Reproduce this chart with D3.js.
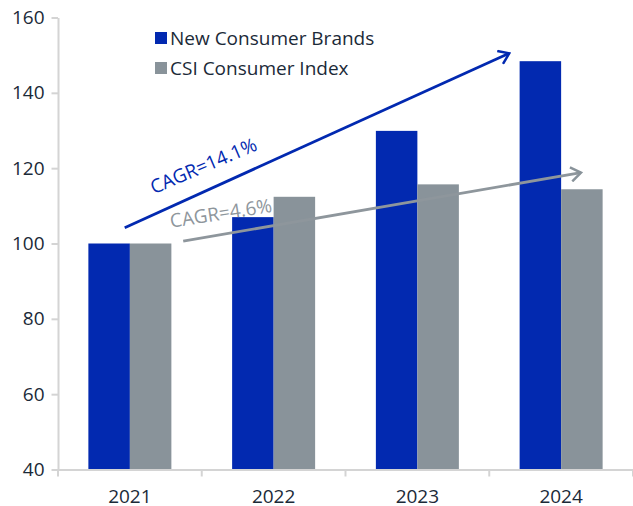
<!DOCTYPE html>
<html><head><meta charset="utf-8">
<script src="https://cdn.jsdelivr.net/npm/d3@7"></script>
<style>
html,body{margin:0;padding:0;background:#fff;}
svg{display:block;font-family:"Open Sans",sans-serif;}
</style></head>
<body><svg id="c" width="633" height="506"></svg>
<script>
const years = ["2021","2022","2023","2024"];
const seriesNames = ["New Consumer Brands","CSI Consumer Index"];
const newConsumerBrands = [100, 107.0, 129.9, 148.4];
const csiConsumerIndex = [100, 112.4, 115.7, 114.4];
const yTicks = [40,60,80,100,120,140,160];
const colors = ["#0229B0","#89939A"];
// annotation arrows in data space: [categoryIndex, value]
const blueArrow = [[-0.036,104.2],[2.639,150.5]];
const grayArrow = [[0.371,100.6],[3.138,118.8]];
const blueLabel = {text:"CAGR=14.1%", at:[0.53,119.0], angle:-23};
const grayLabel = {text:"CAGR=4.6%", at:[0.64,106.3], angle:-9};

const svg = d3.select("#c");
const mLeft=58, mRight=633, mTop=17.5, mBottom=469.5;
const FS = 19;
const y = d3.scaleLinear().domain([40,160]).range([mBottom,mTop]);
const x0 = d3.scaleBand().domain(years).range([mLeft,mRight]).paddingInner(0.4226).paddingOuter(0.2113);
const x1 = d3.scaleBand().domain(seriesNames).range([0,x0.bandwidth()]);
const xi = d3.scaleLinear().domain([0,1]).range([x0("2021")+x0.bandwidth()/2, x0("2022")+x0.bandwidth()/2]);
const textCol = "#1b2a38", axisCol = "#d4d4d4";

// bars
const data = years.map((yr,i)=>({yr, vals:[newConsumerBrands[i], csiConsumerIndex[i]]}));
const g = svg.append("g").selectAll("g").data(data).join("g")
  .attr("transform", d=>`translate(${x0(d.yr)},0)`);
g.selectAll("rect").data(d=>d.vals.map((v,k)=>({v,k}))).join("rect")
  .attr("x", d=>x1(seriesNames[d.k])).attr("width", x1.bandwidth())
  .attr("y", d=>y(d.v)).attr("height", d=>y(40)-y(d.v))
  .attr("fill", d=>colors[d.k]);

// y axis
const ya = svg.append("g").attr("transform",`translate(${mLeft},0)`)
  .call(d3.axisLeft(y).tickValues(yTicks).tickSize(6.5).tickPadding(7).tickSizeOuter(0));
ya.select(".domain").attr("stroke",axisCol).attr("stroke-width",2);
ya.selectAll(".tick line").attr("stroke",axisCol).attr("stroke-width",2);
ya.selectAll(".tick text").attr("fill",textCol).attr("font-size",FS).attr("font-family","'Open Sans',sans-serif");

// x axis
const xa = svg.append("g").attr("transform",`translate(0,${mBottom})`)
  .call(d3.axisBottom(x0).tickSize(0).tickPadding(20).tickSizeOuter(0));
xa.select(".domain").attr("stroke",axisCol).attr("stroke-width",2);
xa.selectAll(".tick text").attr("fill",textCol).attr("font-size",FS).attr("font-family","'Open Sans',sans-serif");
const bounds = d3.range(years.length+1).map(i=>mLeft + i*x0.step());
svg.append("g").selectAll("line").data(bounds).join("line")
  .attr("x1",d=>d).attr("x2",d=>d).attr("y1",mBottom).attr("y2",mBottom+7)
  .attr("stroke",axisCol).attr("stroke-width",2);

// arrows
const defs = svg.append("defs");
function marker(id,col){
  defs.append("marker").attr("id",id).attr("markerUnits","userSpaceOnUse")
    .attr("viewBox","-12 -8 14 16").attr("markerWidth",14).attr("markerHeight",16)
    .attr("refX",0).attr("refY",0).attr("orient","auto")
    .append("path").attr("d","M-10,-7 L0,0 L-10,7").attr("fill","none")
    .attr("stroke",col).attr("stroke-width",2.5);
}
marker("mb",colors[0]); marker("mg",colors[1]);
function arrow(pts,col,m){
  svg.append("line").attr("x1",xi(pts[0][0])).attr("y1",y(pts[0][1]))
    .attr("x2",xi(pts[1][0])).attr("y2",y(pts[1][1]))
    .attr("stroke",col).attr("stroke-width",2.8).attr("marker-end",`url(#${m})`);
}
arrow(blueArrow,colors[0],"mb");
arrow(grayArrow,"#8E969C","mg");
function label(l,col){
  svg.append("text").attr("transform",`translate(${xi(l.at[0])},${y(l.at[1])}) rotate(${l.angle})`)
    .attr("text-anchor","middle").attr("font-size",FS).attr("fill",col).text(l.text);
}
label(blueLabel,colors[0]);
label(grayLabel,"#8E969C");

// legend
const lg = svg.append("g").selectAll("g").data(seriesNames).join("g")
  .attr("transform",(d,i)=>`translate(155,${32+i*30})`);
lg.append("rect").attr("width",12).attr("height",12).attr("fill",(d,i)=>colors[i]);
lg.append("text").attr("x",15).attr("y",13).attr("font-size",FS).attr("fill",textCol).text(d=>d);
</script></body></html>
